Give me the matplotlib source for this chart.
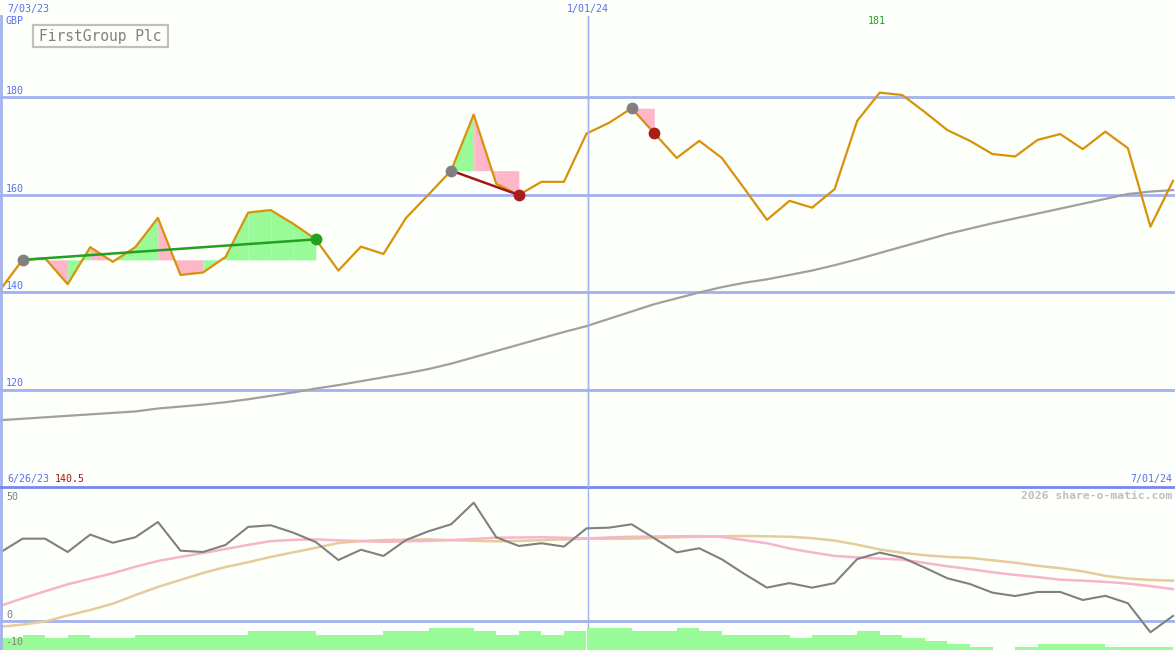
import matplotlib
matplotlib.use("Agg")
import matplotlib.pyplot as plt
from matplotlib.lines import Line2D
from matplotlib.patches import Rectangle

# ---------------- data ----------------
price = [140.4, 146.6, 146.9, 141.6, 149.2, 146.2, 149.2, 155.2, 143.5, 144.0,
         147.2, 156.3, 156.8, 154.0, 150.8, 144.4, 149.3, 147.8, 155.2, 160.0,
         164.9, 176.4, 162.2, 159.9, 162.6, 162.6, 172.5, 174.7, 177.7, 172.6,
         167.5, 171.0, 167.5, 161.2, 154.8, 158.7, 157.3, 161.1, 175.1, 180.9,
         180.4, 176.9, 173.2, 171.0, 168.3, 167.8, 171.2, 172.4, 169.3, 172.9,
         169.5, 153.4, 162.8]
ma_long = [113.7, 114.0, 114.3, 114.6, 114.9, 115.2, 115.5, 116.1, 116.5, 116.9,
           117.4, 118.0, 118.7, 119.4, 120.2, 120.9, 121.7, 122.5, 123.3, 124.2,
           125.3, 126.6, 127.9, 129.2, 130.5, 131.8, 133.0, 134.5, 136.0, 137.5,
           138.7, 139.9, 141.0, 141.9, 142.6, 143.5, 144.4, 145.5, 146.7, 148.0,
           149.3, 150.6, 151.9, 153.0, 154.1, 155.1, 156.1, 157.1, 158.1, 159.1,
           160.1, 160.6, 160.9]
osc = [28.5, 34.3, 34.3, 28.75, 36.0, 32.6, 34.9, 41.25, 29.3, 28.75,
       31.7, 39.2, 39.9, 36.8, 32.9, 25.4, 29.7, 27.1, 33.75, 37.4,
       40.3, 49.3, 34.9, 31.25, 32.4, 31.0, 38.6, 38.9, 40.3, 34.5,
       28.6, 30.3, 25.7, 19.6, 13.9, 15.8, 13.9, 15.8, 25.8, 28.5,
       26.4, 22.2, 17.8, 15.4, 11.8, 10.4, 12.1, 12.1, 8.75, 10.5,
       7.4, -4.7, 2.1]
osc_pink = [6.3, 9.4, 12.4, 15.3, 17.6, 19.9, 22.6, 25.0, 26.7, 28.3,
            30.0, 31.7, 33.3, 33.8, 34.0, 33.6, 33.3, 33.0, 33.2, 33.4,
            33.7, 34.2, 34.7, 34.8, 34.9, 34.7, 34.4, 34.8, 35.1, 35.2,
            35.3, 35.4, 35.0, 33.7, 32.4, 30.2, 28.6, 27.1, 26.5, 26.0,
            25.6, 24.2, 22.8, 21.6, 20.3, 19.2, 18.3, 17.2, 16.8, 16.3,
            15.6, 14.5, 13.3]
osc_tan = [-2.4, -1.5, -0.2, 2.3, 4.6, 7.2, 10.8, 14.2, 17.1, 20.0,
           22.5, 24.5, 26.7, 28.6, 30.5, 32.5, 33.3, 33.75, 33.9, 34.0,
           33.7, 33.4, 33.2, 33.4, 33.7, 34.0, 34.3, 34.3, 34.3, 34.6,
           34.9, 35.1, 35.3, 35.4, 35.3, 35.1, 34.5, 33.5, 31.8, 29.8,
           28.4, 27.4, 26.7, 26.3, 25.3, 24.3, 23.0, 22.0, 20.7, 18.8,
           17.7, 17.1, 16.8]
bars = [-7.0, -5.8, -7.0, -5.8, -7.0, -7.0, -5.8, -5.8, -5.8, -5.8,
        -5.8, -4.2, -4.2, -4.2, -5.8, -5.8, -5.8, -4.2, -4.2, -2.8,
        -2.8, -4.2, -5.8, -4.2, -5.8, -4.2, -2.8, -2.8, -4.2, -4.2,
        -2.8, -4.2, -5.8, -5.8, -5.8, -7.0, -5.8, -5.8, -4.2, -5.8,
        -7.0, -8.3, -9.5, -10.8, -12.1, -10.8, -9.5, -9.5, -9.5, -10.8,
        -10.8, -10.8]
# trend annotations: (start index, end index, end marker colour, line colour, segment colours)
trends = [
    (1, 14, '#22a022', '#22a022',
     ['g', 'p', 'g', 'p', 'g', 'g', 'p', 'p', 'g', 'g', 'g', 'g', 'g']),
    (20, 23, '#a81c1c', '#a01818', ['g', 'p', 'p']),
    (28, 29, '#a81c1c', None, ['p']),
]
price_gridlines = [180, 160, 140, 120]
title = "FirstGroup Plc"
top_left_date = "7/03/23"
mid_date = "1/01/24"
mid_date_pos = 26.07
start_date = "6/26/23"
start_price = "140.5"
end_date = "7/01/24"
max_label = "181"
max_idx = 39

# ---------------- style ----------------
W, H = 1175, 650
BG = '#fdfffb'
GRID = '#a3b1f0'
SEP = '#7888ec'
TXT = '#5a6ef0'
ORANGE = '#d8920a'
GREEN_FILL = '#98fb98'
PINK_FILL = '#ffb6c8'
MONO = 'DejaVu Sans Mono'

fig = plt.figure(figsize=(W / 100, H / 100), dpi=100, facecolor=BG)

def fx(px):
    return px / W

def fy(py):
    return 1 - py / H

xs = list(range(len(price)))
xmax = 52 * W / 1173.0

# top panel: pixel 16..487
ax = fig.add_axes([0, fy(487), 1, (487 - 16) / H])
ax.set_facecolor(BG)
ax.set_xlim(0, xmax)
ax.set_ylim(100, 180 + (97 - 16) / 4.875)
ax.axis('off')

for g in price_gridlines:
    ax.axhline(g, color=GRID, lw=2, zorder=0.5)
ax.axvline(mid_date_pos, color=GRID, lw=1, zorder=0.5)

ax.plot(xs, ma_long, color='#a0a0a0', lw=1.6, zorder=2)

for (s, e, mcol, lcol, cols) in trends:
    base = price[s]
    for j, c in enumerate(cols):
        k = s + j
        ax.fill_between([k, k + 1], [price[k], price[k + 1]], [base, base],
                        color=GREEN_FILL if c == 'g' else PINK_FILL,
                        lw=0, zorder=1)

ax.plot(xs, price, color=ORANGE, lw=1.6, zorder=3, solid_joinstyle='round')

for (s, e, mcol, lcol, cols) in trends:
    if lcol is not None:
        ax.plot([s, e], [price[s], price[e]], color=lcol, lw=1.8, zorder=4)
    ax.plot([s], [price[s]], 'o', color='#808080', ms=8.5, mew=0, zorder=5)
    ax.plot([e], [price[e]], 'o', color=mcol, ms=8.5, mew=0, zorder=5)

# bottom panel: pixel 487..650
ax2 = fig.add_axes([0, 0, 1, (650 - 487) / H])
ax2.set_facecolor(BG)
ax2.set_xlim(0, xmax)
ylo = (621 - 650) / 2.4
ax2.set_ylim(ylo, (621 - 487) / 2.4)
ax2.axis('off')
ax2.bar(list(range(len(bars))), [max(b - ylo, 0) for b in bars], bottom=ylo,
        width=1.0, align='edge', color=GREEN_FILL, lw=0, zorder=1)
ax2.axhline(0, color=GRID, lw=2, zorder=2)
ax2.axvline(mid_date_pos, color=GRID, lw=1, zorder=0.5)
ax2.plot(xs, osc_tan, color='#e6cc9a', lw=1.8, zorder=3)
ax2.plot(xs, osc_pink, color='#f8b4c8', lw=1.8, zorder=3)
ax2.plot(xs, osc, color='#808080', lw=1.5, zorder=4)

# frame lines
fig.add_artist(Line2D([fx(1), fx(1)], [fy(16), fy(650)], color=GRID, lw=2))
fig.add_artist(Line2D([0, 1], [fy(487), fy(487)], color=SEP, lw=2))
fig.add_artist(Line2D([fx(mid_date_pos * W / xmax)] * 2, [fy(16), fy(487)],
                      color=GRID, lw=1))

# texts
fs_small = 7.2
fig.text(fx(7), fy(9), top_left_date, color=TXT, fontsize=fs_small,
         family=MONO, va='center', ha='left')
fig.text(fx(5), fy(21), "GBP", color=TXT, fontsize=fs_small,
         family=MONO, va='center', ha='left')
fig.text(fx(mid_date_pos * W / xmax), fy(9), mid_date, color=TXT,
         fontsize=fs_small, family=MONO, va='center', ha='center')
fig.text(fx(max_idx * W / xmax - 3), fy(21), max_label, color='#22a022',
         fontsize=fs_small, family=MONO, va='center', ha='center')
for g in price_gridlines:
    py = 97 + (180 - g) * 4.875
    fig.text(fx(6), fy(py - 6), str(g), color=TXT, fontsize=fs_small,
             family=MONO, va='center', ha='left')

fig.add_artist(Rectangle((fx(33), fy(47)), fx(135), (47 - 25) / H,
                         fill=False, edgecolor='#c0c0c0', lw=1.6))
fig.text(fx(100), fy(36.5), title, color='#808080', fontsize=10.5,
         family=MONO, va='center', ha='center')

fig.text(fx(7), fy(479), start_date, color=TXT, fontsize=fs_small,
         family=MONO, va='center', ha='left')
fig.text(fx(55), fy(479), start_price, color='#a01818', fontsize=fs_small,
         family=MONO, va='center', ha='left')
fig.text(fx(1172), fy(479), end_date, color=TXT, fontsize=fs_small,
         family=MONO, va='center', ha='right')
fig.text(fx(1172), fy(496), "2026 share-o-matic.com", color='#c0c0c0',
         fontsize=8.2, family=MONO, weight='bold', va='center', ha='right')
fig.text(fx(6), fy(496.5), "50", color='#808080', fontsize=fs_small,
         family=MONO, va='center', ha='left')
fig.text(fx(6), fy(615), "0", color='#808080', fontsize=fs_small,
         family=MONO, va='center', ha='left')
fig.text(fx(5), fy(642), "-10", color='#808080', fontsize=fs_small,
         family=MONO, va='center', ha='left')

fig.savefig("out.png", dpi=100, facecolor=BG)
